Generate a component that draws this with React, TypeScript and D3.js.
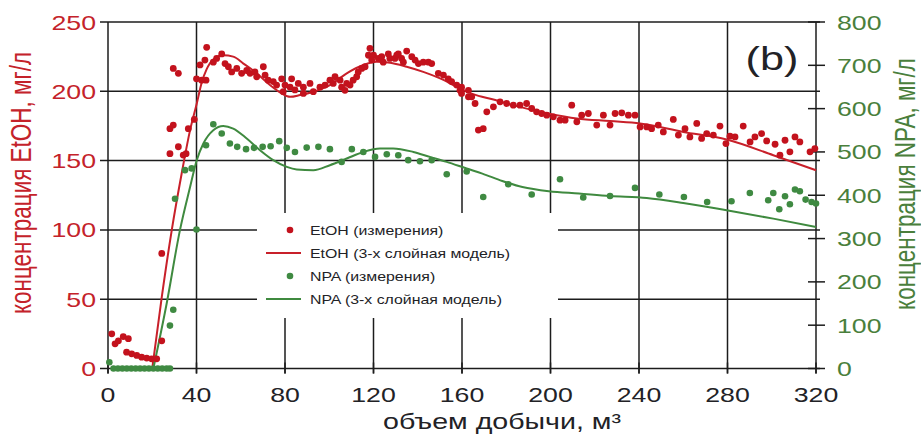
import React from "react";
import * as d3 from "d3";

const W = 921;
const H = 435;

const xTicks = [0, 40, 80, 120, 160, 200, 240, 280, 320];
const leftTicks = [0, 50, 100, 150, 200, 250];
const rightTicks = [0, 100, 200, 300, 400, 500, 600, 700, 800];

const xTitle = "объем добычи, м³";
const leftTitle = "концентрация EtOH, мг/л";
const rightTitle = "концентрация NPA, мг/л";
const panelLabel = "(b)";
const legendLabels = [
  "EtOH (измерения)",
  "EtOH (3-х слойная модель)",
  "NPA (измерения)",
  "NPA (3-х слойная модель)",
];

const etohMeasured: [number, number][] = [
  [1.7, 25], [3.2, 17.8], [4.7, 20], [6.9, 23], [9.2, 21.5], [8.4, 11.8], [10.7, 10.6], [13, 9.4],
  [15.2, 8.2], [17.5, 7.5], [19.7, 7], [22, 7], [24.3, 20], [24.3, 83], [28, 155], [31.8, 160],
  [28, 173], [29.5, 175.6], [29.5, 216.5], [31.8, 213], [34, 154], [35.3, 155], [36.3, 173],
  [39, 179.7], [40, 209], [42.3, 208], [44.3, 208], [41.6, 219], [43.8, 222.5], [44.6, 231.7],
  [47.6, 221], [49.1, 223.7], [51.4, 227], [52.9, 220], [54.4, 217.7], [55.9, 214], [58.2, 216.5],
  [60.4, 213], [62.7, 215], [64.2, 213], [66.4, 214], [67.2, 210.5], [70.2, 217.7], [71, 211.7],
  [72.4, 208], [74.7, 207], [76.2, 204.5], [78.5, 209], [80, 204.5], [79.2, 199.7], [83, 209],
  [82.3, 203], [84.5, 201], [86, 205.7], [88.3, 198.5], [88.3, 203], [91.3, 205.7], [92.8, 199.7],
  [95.8, 203], [98.1, 204.5], [100.3, 208], [101.8, 205.7], [102.6, 210.5], [104.9, 208],
  [105.6, 203], [107.1, 200.7], [107.9, 205.7], [109.4, 204.5], [110.8, 208], [112.4, 210.5],
  [113.1, 214], [114.7, 216.5], [116.2, 217.7], [118.4, 231], [117.7, 226], [120, 226],
  [119.2, 222.5], [122.2, 223.7], [123.7, 225], [124.4, 221], [126.7, 227], [127.4, 223.7],
  [129.7, 223.7], [130.5, 226], [131.2, 227], [132.7, 223.7], [135, 229], [133.5, 221],
  [137.3, 225], [138.8, 222.5], [140.3, 220], [142.5, 221], [144.8, 221], [146.3, 220],
  [149.3, 213], [151.6, 211.7], [153.8, 209], [155.3, 207], [157.6, 204.5], [159.1, 200.7],
  [159.8, 198.5], [159.8, 203], [162.9, 196], [162.9, 200.7], [164.4, 196], [165.9, 191.2],
  [167.4, 172], [169.6, 173], [171.2, 185.2], [174.2, 188.8], [177.2, 192.4], [180.2, 191.2],
  [183.2, 190], [186.2, 190], [189.2, 191.2], [191.5, 187.6], [193.7, 185.2], [196, 184],
  [198.3, 182.8], [201.3, 181.6], [204.3, 179.2], [206.6, 179.2], [209.6, 190], [211.9, 178],
  [214.1, 182.8], [217.1, 184], [220.9, 175.6], [223.9, 182.8], [226.9, 175.6], [229.2, 184],
  [232.2, 184.5], [235.2, 182.8], [238.2, 182.8], [240.5, 174.3], [243.5, 174.3], [245.7, 173],
  [248.7, 175.6], [251, 170.7], [255.5, 179.7], [257.8, 168.4], [260.8, 173], [263, 167.1],
  [266.1, 176.8], [268.3, 166], [270.6, 169.5], [273.6, 168.4], [276.6, 174.9], [279.3, 162.3],
  [281.1, 167.6], [283.4, 167.1], [287.1, 174.9], [290.2, 163.5], [292.4, 167.1], [295.4, 169.5],
  [297.7, 164.2], [301.5, 161.8], [303.7, 153.9], [306, 164.7], [308.2, 156.3], [310.5, 167.1],
  [312.7, 163.5], [317.3, 156.3], [319.5, 158.7],
];

const npaMeasured: [number, number][] = [
  [0.6, 14.6], [2.5, 0], [4.5, 0], [6.5, 0], [8.5, 0], [10.5, 0], [12.5, 0], [14.5, 0], [16.5, 0],
  [18.5, 0], [20.5, 0], [22.5, 0], [24.5, 0], [26.5, 0], [28, 0], [28, 99], [29.5, 135.7],
  [30.3, 392], [34.8, 458], [37.8, 462], [40, 321], [44.3, 515.6], [47.6, 564], [51.4, 542.6],
  [55.1, 519.5], [58.4, 511.7], [62.4, 506.4], [66, 509.4], [69.9, 511.7], [73.5, 513.3],
  [77.4, 524.9], [80.8, 509.4], [84.5, 500], [89.8, 510], [95.1, 511.7], [100.3, 506.4],
  [105.6, 477], [110.2, 506.4], [115.4, 500], [120.7, 488.6], [126, 494.8], [131.2, 492.5],
  [135.7, 481], [141, 478.6], [146.3, 481], [153.1, 448.6], [162.1, 455], [169.6, 396],
  [180.9, 425.4], [191.5, 401.6], [204.3, 437], [214.8, 394.7], [226.9, 398.4], [238.2, 417],
  [249.2, 401.6], [260.3, 396], [270.8, 384.5], [281.8, 386], [290.1, 405.3], [298.4, 388.4],
  [300.7, 405.3], [303.4, 367.6], [306, 397.7], [308.2, 379.2], [310.5, 413.2], [312.7, 409.2],
  [315.3, 390], [318, 384.5], [320, 380.8],
];

const etohModel: [number, number][] = [
  [20, 0], [24.3, 51.5], [28.8, 99.7], [33.3, 140.7], [37.1, 172], [40.1, 191], [42.3, 206],
  [44.6, 216], [47.6, 223], [52.1, 226], [56.6, 225], [61.2, 220], [67.2, 213], [73.2, 204.5],
  [78.5, 198.5], [82.3, 196], [86.8, 197.3], [92.8, 199.7], [100.3, 204.5], [107.9, 213],
  [115.4, 219], [121.4, 221.3], [127.5, 220.6], [135, 217.7], [142.5, 214], [150.1, 209.3],
  [157.6, 203.3], [165, 198], [174.2, 194.1], [184.7, 189.3], [199, 184], [211.9, 180.4],
  [226.9, 178.5], [240.5, 176.8], [260, 170.7], [279.6, 165.2], [300.7, 153.9], [320, 143],
];

const npaModel: [number, number][] = [
  [20.5, 0], [26.5, 149.6], [32.5, 319], [37.1, 419], [40.1, 481], [43.1, 519.5], [47.6, 550.3],
  [52.1, 560], [56.6, 554], [62.7, 531], [68.7, 504], [74.7, 481], [80.8, 465.4], [85.3, 459.4],
  [92.8, 457.8], [100.3, 469.4], [107.9, 484.8], [115.4, 500], [122.9, 508], [128.9, 508],
  [138, 500], [145.5, 488.6], [153.1, 477], [162.1, 461.7], [169.2, 450], [178.2, 433],
  [187.3, 419], [199.3, 409.2], [212.9, 404], [226.9, 398.4], [243.5, 393.8], [260, 382.3],
  [279.6, 365.3], [300.7, 346], [320, 326.7],
];

const RED = "#c3121d";
const RED_LINE = "#c8202a";
const GREEN = "#3f8a42";
const GREEN_LINE = "#3f8a3f";
const RED_TEXT = "#c4222a";
const GREEN_TEXT = "#4a7f3c";
const DARK = "#222226";
const GRID = "#1c1c1c";
const FONT = "'Liberation Sans', Arial, Helvetica, sans-serif";
const SX = 1.27;

function SText(props: {
  x: number; y: number; anchor?: string; size: number; fill: string; rotate?: boolean; children: React.ReactNode;
}) {
  const { x, y, anchor = "start", size, fill, rotate, children } = props;
  return (
    <text
      transform={`translate(${x},${y}) scale(${SX},1)${rotate ? " rotate(-90)" : ""}`}
      textAnchor={anchor}
      fontSize={size}
      fill={fill}
      fontFamily={FONT}
    >
      {children}
    </text>
  );
}

export default function App() {
  const left = 108;
  const right = 816;
  const top = 22;
  const bottom = 368.5;

  const x = d3.scaleLinear().domain([0, 320]).range([left, right]);
  const yL = d3.scaleLinear().domain([0, 250]).range([bottom, top]);
  const yR = d3.scaleLinear().domain([0, 800]).range([bottom, top]);

  const etohLine = d3.line<[number, number]>().x((d) => x(d[0])).y((d) => yL(d[1])).curve(d3.curveMonotoneX);
  const npaLine = d3.line<[number, number]>().x((d) => x(d[0])).y((d) => yR(d[1])).curve(d3.curveMonotoneX);

  const legend = { x0: 257, x1: 558, y0: 213, y1: 318 };
  const legendRows = [230, 253, 276, 299];

  return (
    <svg width={W} height={H} style={{ position: "absolute", left: 0, top: 0, background: "#fff" }}>
      <rect x={0} y={0} width={W} height={H} fill="#fff" />
      {/* horizontal grid lines */}
      {leftTicks.map((t) => (
        <line key={"h" + t} x1={left - 8} x2={right + 4} y1={yL(t)} y2={yL(t)} stroke={GRID} strokeWidth={1.5} />
      ))}
      {/* vertical grid lines */}
      {xTicks.map((t) => (
        <line key={"v" + t} x1={x(t)} x2={x(t)} y1={top} y2={bottom + 5} stroke={GRID} strokeWidth={1.5} />
      ))}
      {/* right axis ticks */}
      {rightTicks.map((t) => (
        <line key={"r" + t} x1={right - 8} x2={right + 9} y1={yR(t)} y2={yR(t)} stroke={GRID} strokeWidth={1.5} />
      ))}
      {/* bottom ticks crossing */}
      {xTicks.map((t) => (
        <line key={"b" + t} x1={x(t)} x2={x(t)} y1={bottom - 6} y2={bottom + 5} stroke={GRID} strokeWidth={1.5} />
      ))}
      {/* legend box (white, hides grid) */}
      <rect x={legend.x0} y={legend.y0} width={legend.x1 - legend.x0} height={legend.y1 - legend.y0} fill="#fff" />

      {/* model lines */}
      <path d={etohLine(etohModel) || ""} fill="none" stroke={RED_LINE} strokeWidth={2} />
      <path d={npaLine(npaModel) || ""} fill="none" stroke={GREEN_LINE} strokeWidth={2} />

      {/* measured points */}
      {npaMeasured.map((d, i) => (
        <circle key={"n" + i} cx={x(d[0])} cy={yR(d[1])} r={3.3} fill={GREEN} />
      ))}
      {etohMeasured.map((d, i) => (
        <circle key={"e" + i} cx={x(d[0])} cy={yL(d[1])} r={3.4} fill={RED} />
      ))}

      {/* legend */}
      <circle cx={290} cy={legendRows[0]} r={3.3} fill={RED} />
      <line x1={266} x2={301} y1={legendRows[1]} y2={legendRows[1]} stroke={RED_LINE} strokeWidth={2} />
      <circle cx={290} cy={legendRows[2]} r={3.3} fill={GREEN} />
      <line x1={266} x2={301} y1={legendRows[3]} y2={legendRows[3]} stroke={GREEN_LINE} strokeWidth={2} />
      {legendLabels.map((l, i) => (
        <SText key={"l" + i} x={310} y={legendRows[i] + 4.5} size={12.5} fill={DARK}>
          {l}
        </SText>
      ))}

      {/* tick labels */}
      {leftTicks.map((t) => (
        <SText key={"lt" + t} x={96} y={yL(t) + 7.5} anchor="end" size={21} fill={RED_TEXT}>
          {String(t)}
        </SText>
      ))}
      {rightTicks.map((t) => (
        <SText key={"rt" + t} x={837} y={yR(t) + 7.5} anchor="start" size={21} fill={GREEN_TEXT}>
          {String(t)}
        </SText>
      ))}
      {xTicks.map((t) => (
        <SText key={"xt" + t} x={x(t)} y={402} anchor="middle" size={21} fill={DARK}>
          {String(t)}
        </SText>
      ))}

      {/* titles */}
      <SText x={502} y={429} anchor="middle" size={22.5} fill={DARK}>
        {xTitle}
      </SText>
      <SText x={31} y={183} anchor="middle" size={22.5} fill={RED_TEXT} rotate>
        {leftTitle}
      </SText>
      <SText x={915} y={184} anchor="middle" size={22.5} fill={GREEN_TEXT} rotate>
        {rightTitle}
      </SText>
      <SText x={772} y={70} anchor="middle" size={34} fill={DARK}>
        {panelLabel}
      </SText>
    </svg>
  );
}
